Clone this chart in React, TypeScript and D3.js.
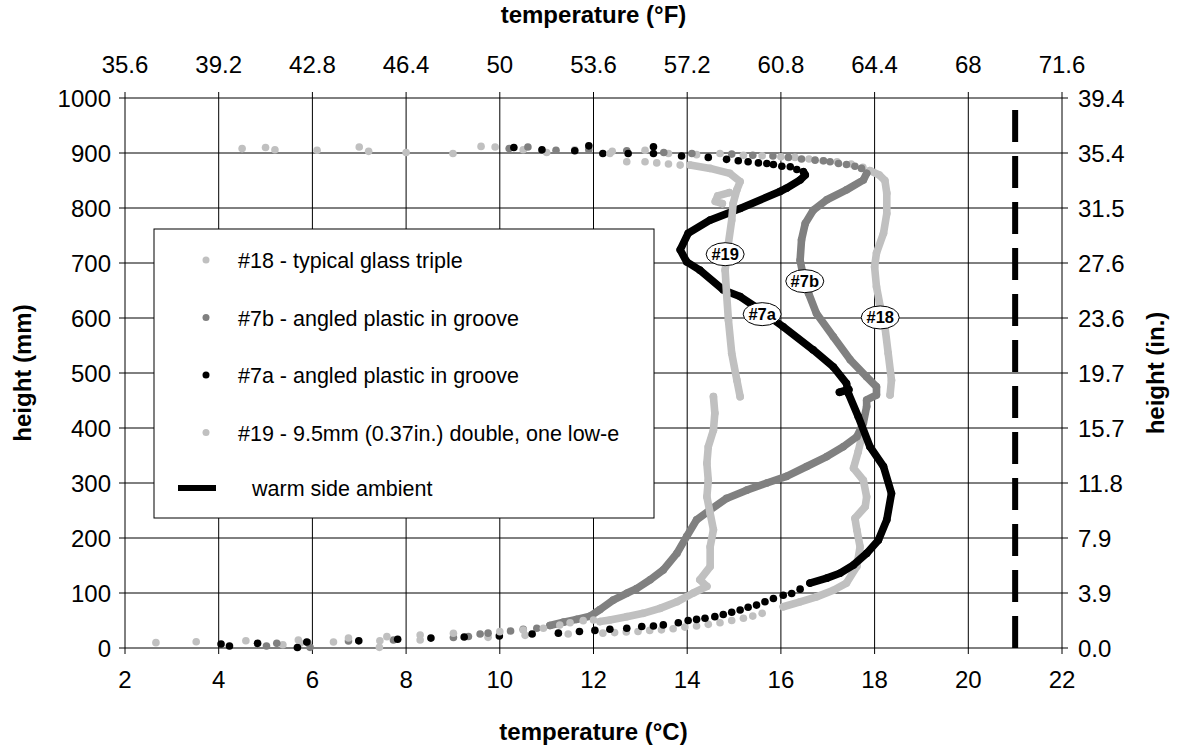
import * as d3 from 'd3';

type Pt = [number, number];

// axis ticks
const celsiusTicks = [2, 4, 6, 8, 10, 12, 14, 16, 18, 20, 22];
const fahrenheitLabels = ['35.6', '39.2', '42.8', '46.4', '50', '53.6', '57.2', '60.8', '64.4', '68', '71.6'];
const heightTicks = [0, 100, 200, 300, 400, 500, 600, 700, 800, 900, 1000];
const inchLabels = ['0.0', '3.9', '7.9', '11.8', '15.7', '19.7', '23.6', '27.6', '31.5', '35.4', '39.4'];
const ambientTemp = 21;

// #18 - typical glass triple  [temp °C, height mm]
const s18Dots: Pt[] = [
  [4.5, 908], [5.0, 910], [5.2, 906], [6.1, 905], [7.0, 911], [7.2, 903], [8.0, 901], [9.0, 899],
  [9.6, 912], [9.9, 911], [10.5, 906], [11.0, 901], [11.6, 906], [12.4, 903], [13.1, 905], [13.6, 899],
  [14.2, 897], [14.7, 899], [15.2, 896], [15.6, 895], [16.0, 893], [16.3, 892], [16.6, 889], [16.9, 886],
  [17.2, 884], [17.5, 880], [17.75, 874],
  [15.6, 63], [15.4, 58], [15.2, 54], [14.95, 50], [14.7, 46], [14.45, 43], [14.2, 40], [13.95, 38],
  [13.7, 35], [13.45, 33], [13.2, 32], [12.95, 30], [12.7, 29], [12.45, 28], [12.2, 27],
  [11.46, 25.5], [10.54, 23], [9.75, 19.4], [8.3, 14.5], [7.43, 1.2], [6.45, 10.9], [5.74, 8.5],
  [5.37, 6], [3.52, 11.5], [2.66, 9.7],
];
const s18Upper: Pt[] = [
  [17.9, 868], [18.1, 860], [18.22, 850], [18.26, 827], [18.26, 790], [18.19, 754], [18.04, 718],
  [18.0, 693], [18.04, 657], [18.12, 621], [18.22, 584], [18.29, 536], [18.36, 487], [18.33, 460],
];
const s18Lower: Pt[] = [
  [17.76, 396], [17.65, 357], [17.55, 327], [17.76, 305], [17.83, 275], [17.8, 257], [17.58, 236],
  [17.62, 215], [17.69, 184], [17.62, 148], [17.4, 118], [17.12, 105], [16.76, 93], [16.41, 84], [16.05, 75],
];

// #7b - angled plastic in groove
const s7bDots: Pt[] = [
  [10.2, 908], [10.6, 911], [11.2, 905], [11.9, 906], [12.71, 904], [13.5, 901], [14.1, 899], [14.95, 898],
  [15.4, 896], [15.83, 894.5], [16.16, 892], [16.44, 889], [16.73, 887], [16.91, 886], [17.05, 884],
  [17.23, 881], [17.4, 879], [17.58, 876], [17.72, 872],
  [10.79, 36], [10.5, 34], [10.23, 31], [9.75, 27], [9.58, 25.5], [9.33, 21], [9.01, 19], [7.73, 14.5],
  [6.77, 12.7], [5.95, 1.2], [5.9, 10], [5.24, 8.5], [5.02, 3.6],
];
const s7bTrace: Pt[] = [
  [17.83, 863], [17.76, 851], [17.4, 833], [16.98, 815], [16.69, 796], [16.52, 772], [16.44, 742],
  [16.41, 705], [16.48, 675], [16.59, 645], [16.76, 608], [17.12, 566], [17.48, 524], [17.83, 493],
  [18.04, 475], [18.04, 460], [17.83, 451], [17.83, 439], [17.76, 409], [17.62, 384], [17.33, 366],
  [16.98, 348], [16.55, 330], [16.12, 312], [15.7, 300], [15.27, 287], [14.84, 272], [14.49, 251],
  [14.2, 233], [13.99, 203], [13.78, 172], [13.49, 142], [13.21, 124], [12.92, 108], [12.71, 99.5],
  [12.42, 87], [12.14, 70], [11.93, 58], [11.64, 52], [11.36, 47], [11.07, 41],
];

// #7a - angled plastic in groove
const s7aDots: Pt[] = [
  [10.3, 910], [10.9, 906], [11.6, 904], [11.9, 913], [12.2, 899], [12.74, 899], [13.28, 911.5],
  [13.28, 899], [13.88, 894.5], [14.45, 892], [14.84, 888.5], [15.09, 886], [15.3, 884], [15.52, 882],
  [15.7, 881], [15.84, 879], [16.02, 876], [16.2, 875], [16.34, 870],
  [16.41, 107], [16.23, 99], [16.05, 96], [15.84, 90], [15.66, 84], [15.48, 78], [15.3, 74], [15.13, 69],
  [14.95, 65], [14.77, 61], [14.59, 57], [14.38, 54], [14.2, 52], [14.02, 50], [13.81, 46], [13.49, 42],
  [13.28, 40], [13.03, 39], [12.71, 36], [12.35, 34], [12.03, 32], [11.7, 30], [11.25, 27], [10.69, 25.5],
  [9.99, 22], [9.24, 20], [8.53, 18], [7.82, 16], [6.99, 13], [5.88, 11], [5.68, 1], [4.83, 8.5],
  [4.23, 3.6], [4.05, 7.3],
];
const s7aTrace: Pt[] = [
  [16.48, 866], [16.52, 860], [16.41, 851], [16.12, 836], [15.98, 830], [15.13, 799], [14.49, 778],
  [14.02, 754], [13.85, 724], [13.99, 702], [14.27, 687], [14.77, 651], [15.13, 639], [15.55, 615],
  [16.05, 584], [16.69, 542], [17.12, 511], [17.4, 481], [17.44, 463], [17.65, 421], [17.9, 366],
  [18.19, 330], [18.36, 281], [18.26, 233], [18.08, 196], [17.83, 172], [17.55, 151], [17.26, 136],
  [16.98, 127], [16.62, 118],
];
const s7aBlob: Pt[] = [[17.25, 465], [17.45, 470]];

// #19 - 9.5mm (0.37in.) double, one low-e
const s19Dots: Pt[] = [
  [12.35, 899], [12.71, 884], [13.1, 884], [13.35, 882], [13.6, 880], [13.85, 878],
  [12.0, 50.9], [11.78, 49.7], [11.5, 46], [11.28, 41.8], [10.93, 35.8], [10.5, 32.7], [10.0, 29.7],
  [9.01, 26.7], [8.3, 23.6], [7.59, 20.6], [7.44, 13.3], [6.77, 18.2], [5.7, 14.5], [4.58, 13.3],
];
const s19Upper: Pt[] = [
  [14.06, 878], [14.49, 872], [14.91, 863], [15.13, 848], [15.06, 833], [14.98, 808], [14.95, 778],
  [14.88, 736], [14.81, 687], [14.84, 645], [14.88, 596], [14.95, 536], [15.06, 487], [15.13, 457],
];
const s19Loop: Pt[] = [[14.9, 828], [14.65, 822], [14.6, 812], [14.75, 808]];
const s19Lower: Pt[] = [
  [14.56, 457], [14.59, 427], [14.56, 396], [14.45, 366], [14.42, 336], [14.45, 305], [14.42, 275],
  [14.49, 245], [14.56, 215], [14.49, 184], [14.49, 148], [14.27, 124], [14.42, 112], [14.13, 100],
  [13.78, 84], [13.42, 72], [13.06, 63], [12.71, 57], [12.35, 51], [12.14, 48],
];

const series = [
  { name: '#18 - typical glass triple', color: '#c0c0c0', traces: [s18Upper, s18Lower], dots: s18Dots },
  { name: '#7b - angled plastic in groove', color: '#808080', traces: [s7bTrace], dots: s7bDots },
  { name: '#7a - angled plastic in groove', color: '#000000', traces: [s7aTrace, s7aBlob], dots: s7aDots },
  { name: '#19 - 9.5mm (0.37in.) double, one low-e', color: '#c0c0c0', traces: [s19Upper, s19Loop, s19Lower], dots: s19Dots },
];

// callout labels [text, temp, height]
const callouts: [string, number, number][] = [
  ['#19', 14.81, 716],
  ['#7b', 16.51, 667],
  ['#7a', 15.6, 607],
  ['#18', 18.12, 601],
];

const font = '"Liberation Sans", Arial, sans-serif';

export default function App() {
  const x = d3.scaleLinear().domain([2, 22]).range([125, 1062]);
  const y = d3.scaleLinear().domain([0, 1000]).range([648, 98]);
  const line = d3.line<Pt>().x(d => x(d[0])).y(d => y(d[1])).curve(d3.curveLinear);
  const [x0, x1] = x.range();
  const [y0, y1] = y.range();
  const r = 3.8;

  return (
    <svg width={1178} height={750} style={{ position: 'absolute', left: 0, top: 0, background: '#fff' }} fontFamily={font}>
      {/* grid */}
      {celsiusTicks.map(t => (
        <line key={'gx' + t} x1={x(t)} x2={x(t)} y1={y1 - 6} y2={y0 + 6} stroke="#000" strokeWidth={1} />
      ))}
      {heightTicks.map(t => (
        <line key={'gy' + t} x1={x0 - 6} x2={x1 + 6} y1={y(t)} y2={y(t)} stroke="#000" strokeWidth={1} />
      ))}

      {/* tick labels */}
      {celsiusTicks.map((t, i) => (
        <g key={'lx' + t}>
          <text x={x(t)} y={y0 + 40} fontSize={24} textAnchor="middle">{t}</text>
          <text x={x(t)} y={y1 - 25} fontSize={24} textAnchor="middle">{fahrenheitLabels[i]}</text>
        </g>
      ))}
      {heightTicks.map((t, i) => (
        <g key={'ly' + t}>
          <text x={x0 - 14} y={y(t) + 8.5} fontSize={24} textAnchor="end">{t}</text>
          <text x={x1 + 16} y={y(t) + 8.5} fontSize={24} textAnchor="start">{inchLabels[i]}</text>
        </g>
      ))}

      {/* axis titles */}
      <text x={(x0 + x1) / 2} y={740} fontSize={24} fontWeight="bold" textAnchor="middle">temperature (°C)</text>
      <text x={(x0 + x1) / 2} y={23} fontSize={24} fontWeight="bold" textAnchor="middle">temperature (°F)</text>
      <text transform={`translate(31,${(y0 + y1) / 2}) rotate(-90)`} fontSize={24} fontWeight="bold" textAnchor="middle">height (mm)</text>
      <text transform={`translate(1164,${(y0 + y1) / 2}) rotate(-90)`} fontSize={24} fontWeight="bold" textAnchor="middle">height (in.)</text>

      {/* warm side ambient */}
      <line x1={x(ambientTemp)} x2={x(ambientTemp)} y1={y(0)} y2={y(1000)} stroke="#000" strokeWidth={6} strokeDasharray="32,14" />

      {/* series */}
      {series.map(s => (
        <g key={s.name}>
          {s.traces.map((tr, i) => (
            <path key={i} d={line(tr) ?? ''} fill="none" stroke={s.color} strokeWidth={r * 2} strokeLinejoin="round" strokeLinecap="round" />
          ))}
          {s.traces.flat().concat(s.dots).map((d, i) => (
            <circle key={i} cx={x(d[0])} cy={y(d[1])} r={r} fill={s.color} />
          ))}
        </g>
      ))}

      {/* callouts */}
      {callouts.map(([t, tx, hy]) => (
        <g key={t} transform={`translate(${x(tx)},${y(hy)})`}>
          <ellipse rx={19} ry={11.5} fill="#fff" stroke="#000" strokeWidth={1} />
          <text y={6} fontSize={16.5} fontWeight="bold" textAnchor="middle">{t}</text>
        </g>
      ))}

      {/* legend */}
      <g transform="translate(154,229)">
        <rect width={500} height={289} fill="#fff" stroke="#000" strokeWidth={1} />
        {series.map((s, i) => (
          <g key={s.name} transform={`translate(0,${31 + i * 57.5})`}>
            <circle cx={52} cy={0} r={3.5} fill={s.color} />
            <text x={84} y={8} fontSize={21.5}>{s.name}</text>
          </g>
        ))}
        <g transform={`translate(0,${31 + 4 * 57})`}>
          <line x1={24} x2={62} y1={0} y2={0} stroke="#000" strokeWidth={6} />
          <text x={98} y={8} fontSize={21.5}>warm side ambient</text>
        </g>
      </g>
    </svg>
  );
}
